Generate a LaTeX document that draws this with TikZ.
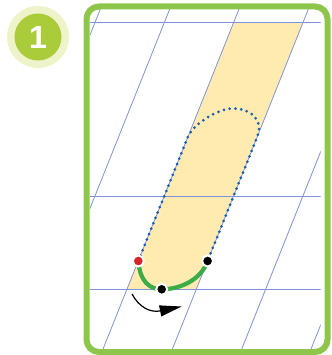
\documentclass[tikz,border=0pt]{standalone}
\usepackage{fontspec}
\newfontfamily\badgefont{Liberation Sans}
\usetikzlibrary{arrows.meta}
\definecolor{frameG}{RGB}{141,198,75}
\definecolor{badgeG}{RGB}{170,204,58}
\definecolor{paleG}{RGB}{238,243,201}
\definecolor{bandY}{RGB}{255,235,175}
\definecolor{gridB}{RGB}{128,146,222}
\definecolor{dotB}{RGB}{20,92,184}
\definecolor{arcG}{RGB}{60,172,72}
\definecolor{dotR}{RGB}{214,34,42}
\tikzset{
  gridline/.style={draw=gridB, line width=0.8pt},
  dotline/.style={draw=dotB, line width=3pt, line cap=round, dash pattern=on 0pt off 5.8pt},
  strokearc/.style={draw=arcG, line width=4.2pt},
  pt/.style={circle, minimum size=11pt, inner sep=0pt, draw=white, line width=2pt},
}
\begin{document}
\begin{tikzpicture}[x=1pt, y=-1pt]
\useasboundingbox (0,0) rectangle (331,355);
% badge
\node[circle, fill=paleG, minimum size=62pt, inner sep=0pt] (badgeout) at (38,37) {};
\node[circle, fill=badgeG, minimum size=47pt, inner sep=0pt, text=white, font=\badgefont\bfseries\fontsize{32}{32}\selectfont] (badge) at (38,37) {1};
% interior
\begin{scope}
\clip (90,10) rectangle (320.7,350);
\fill[bandY] (233.6,22.7) -- (302.9,22.7) -- (196.3,289.3) -- (127,289.3) -- cycle;
\foreach \k in {0,...,5} {
  \pgfmathsetmacro{\xo}{100+69.33*\k}
  \draw[gridline] (\xo+4,0) -- (\xo-140,360);
}
\foreach \yy in {22.7,196.7,289.3} {
  \draw[gridline] (85,\yy) -- (325,\yy);
}
\end{scope}
% key points
\coordinate (pr) at (138.3,261);
\coordinate (pm) at (161.7,289.3);
\coordinate (pb) at (207.6,261);
% dotted outline
\draw[dotline] (pr) -- (187.9,137) .. controls (193.1,124) and (218,108.5) .. (233,108.5)
  .. controls (250,108.5) and (263.5,119) .. (257.6,136) -- (pb);
% green stroke
\draw[strokearc] (pr) .. controls (140,282) and (150,289.3) .. (pm)
  .. controls (180,289.3) and (201,280) .. (pb);
% points
\node[pt, fill=dotR] (r) at (pr) {};
\node[pt, fill=black] (m) at (pm) {};
\node[pt, fill=black] (b) at (pb) {};
% arrow
\coordinate (as) at (132,294);
\coordinate (ae) at (181.7,306.5);
\draw[line width=1.2pt, -{Triangle[length=22pt,width=11pt]}] (as) .. controls (139,307) and (150,313) .. (ae);
% frame
\draw[frameG, line width=6pt, rounded corners=12.5pt] (86.5,6.5) rectangle (327.5,352);
\end{tikzpicture}
\end{document}
